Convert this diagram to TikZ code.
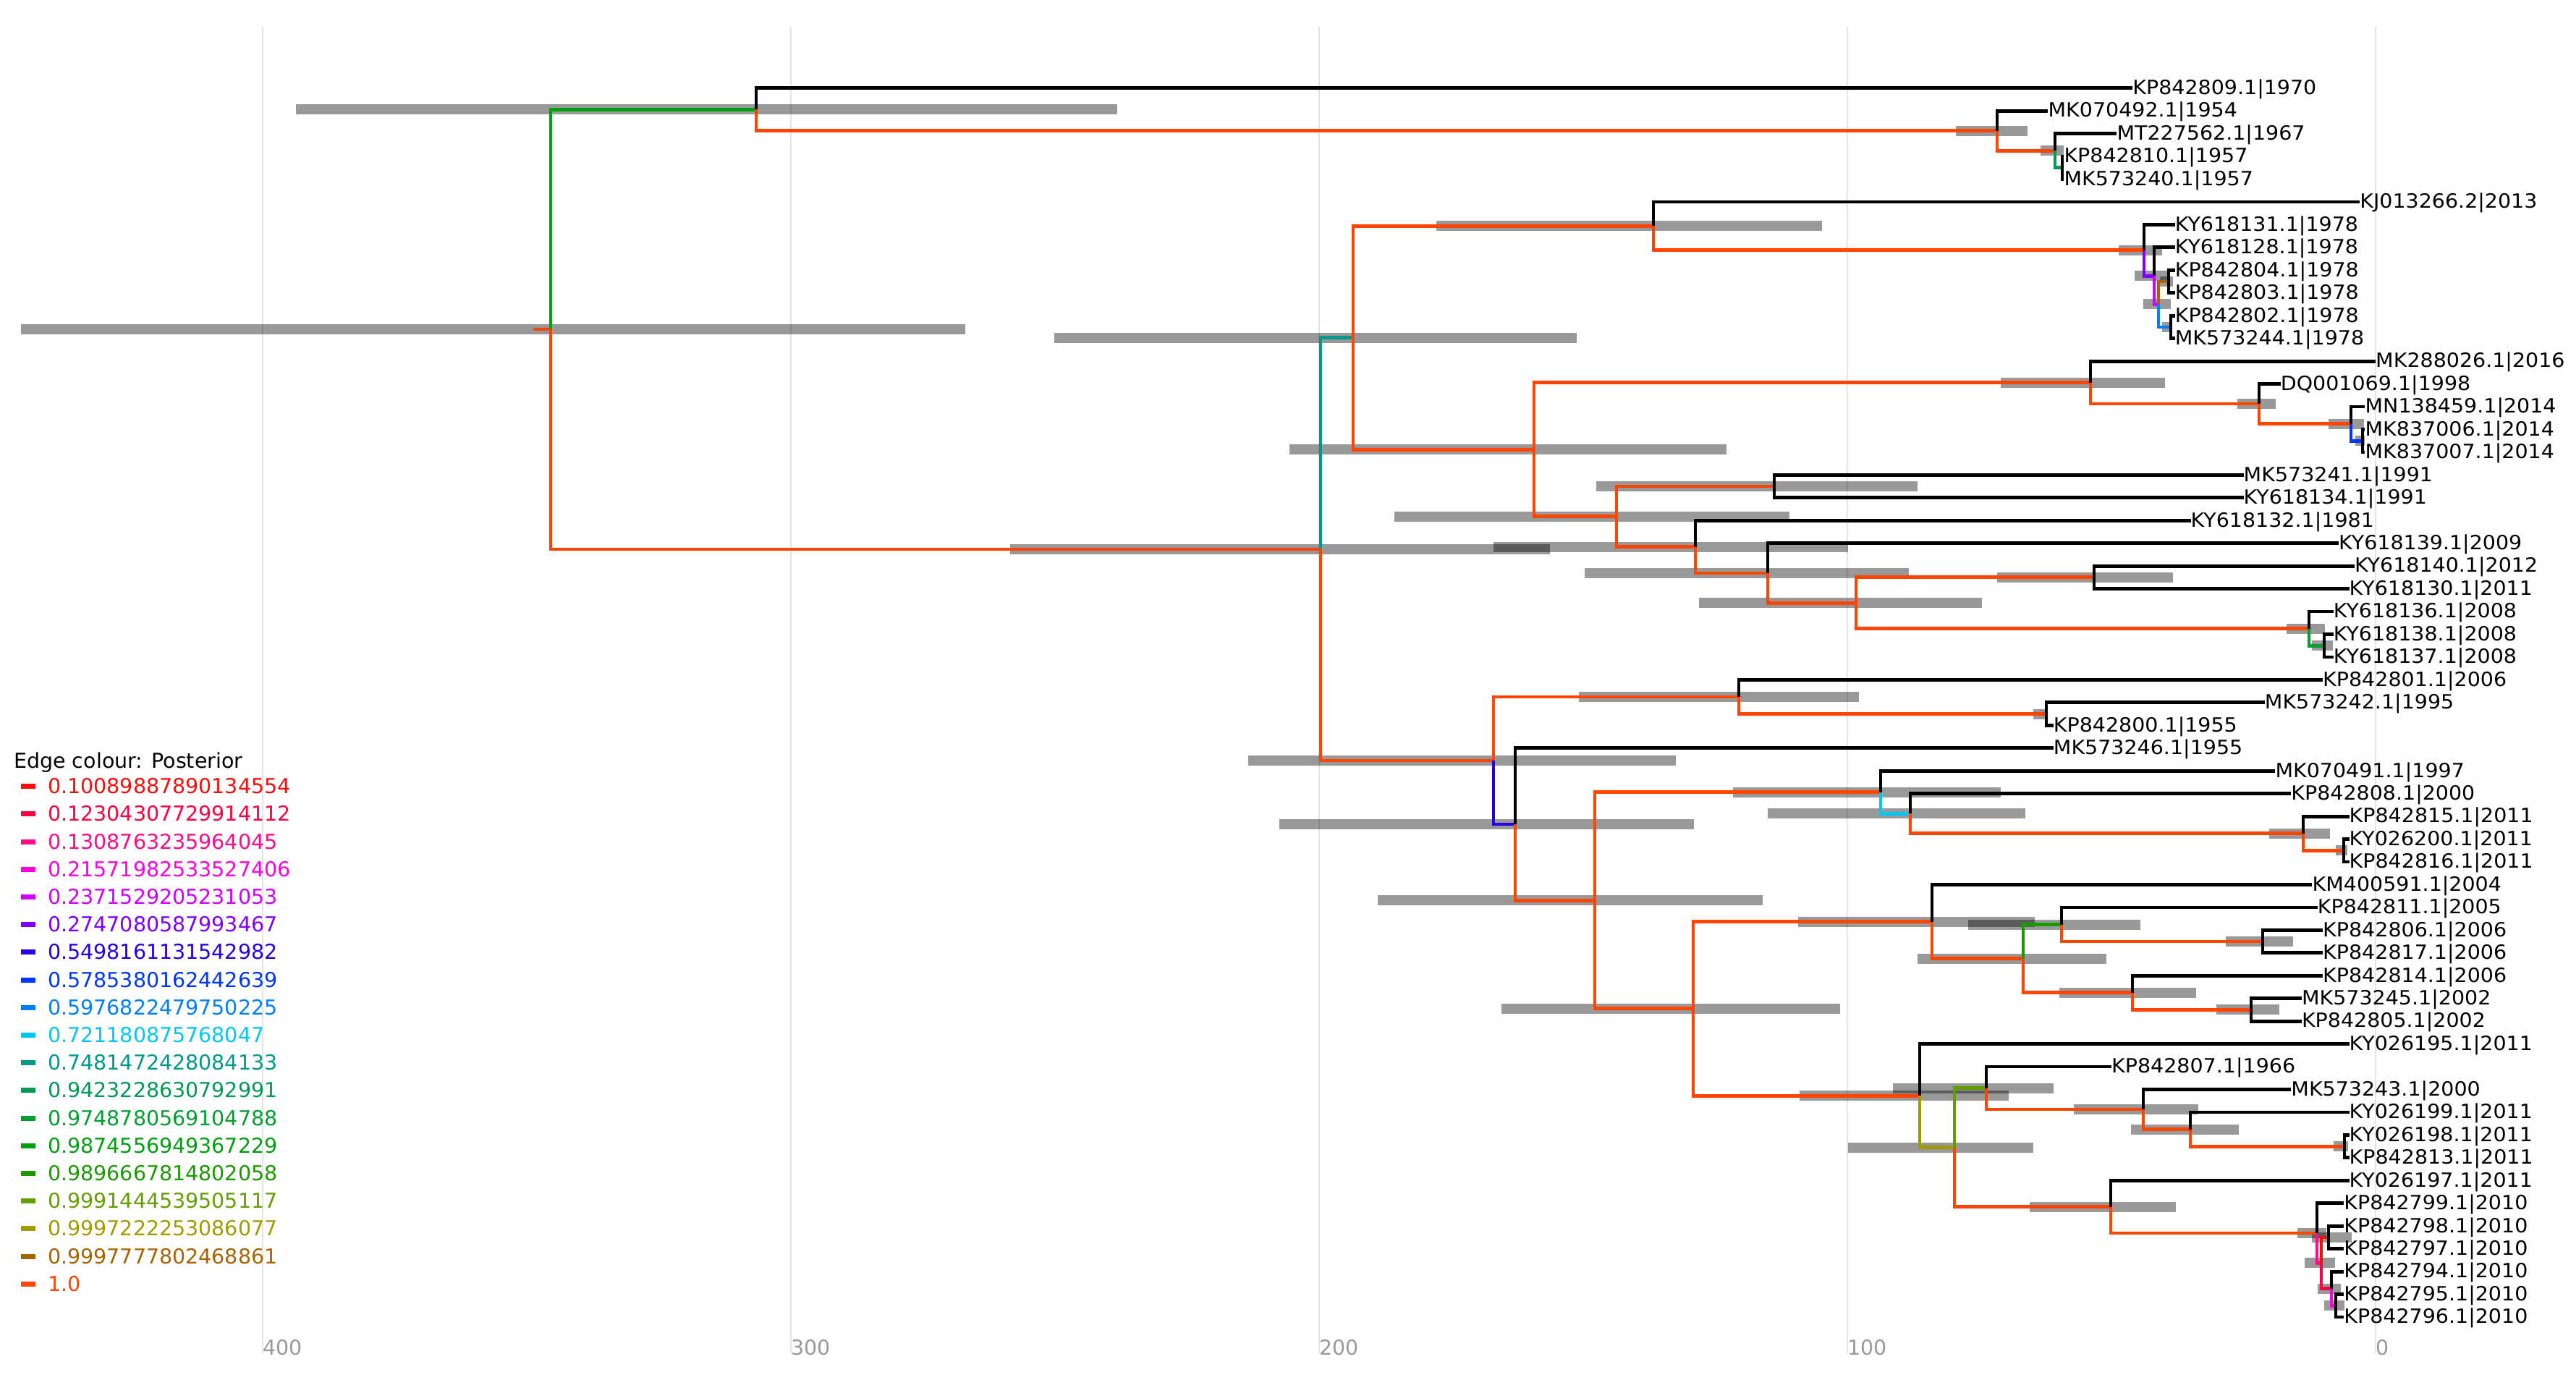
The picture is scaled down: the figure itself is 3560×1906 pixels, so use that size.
\documentclass[tikz,border=0pt]{standalone}
\usepackage{fontspec}
\setmainfont{DejaVu Sans}
\definecolor{p01}{HTML}{FF0A0A}
\definecolor{p02}{HTML}{FF0040}
\definecolor{p03}{HTML}{FF0A88}
\definecolor{p04}{HTML}{FF00E0}
\definecolor{p05}{HTML}{D000FF}
\definecolor{p06}{HTML}{8000FF}
\definecolor{p07}{HTML}{2400E6}
\definecolor{p08}{HTML}{0034FF}
\definecolor{p09}{HTML}{0080FF}
\definecolor{p10}{HTML}{00C8F0}
\definecolor{p11}{HTML}{00998A}
\definecolor{p12}{HTML}{009A55}
\definecolor{p13}{HTML}{00A030}
\definecolor{p14}{HTML}{00A010}
\definecolor{p15}{HTML}{1A9A00}
\definecolor{p16}{HTML}{62A000}
\definecolor{p17}{HTML}{A09C00}
\definecolor{p18}{HTML}{A86400}
\definecolor{p19}{HTML}{FF4500}
\definecolor{gridc}{HTML}{E4E4E4}
\definecolor{axc}{HTML}{9A9A9A}
\newcommand\Yc[1]{(121.7+((#1)-1)*31.45)}
\newcommand\Tx[1]{(3283-7.3*(2016-(#1)))}
\newcommand\hpdbar[3]{\fill[hpd] (#2,{\Yc{#1}-7}) rectangle (#3,{\Yc{#1}+7});}
\newcommand\E[3]{\draw[br,#3] (#1) |- (#2);}
\newcommand\txtfont{\fontsize{28.5}{34}\selectfont}
\begin{document}
\begin{tikzpicture}[x=1pt,y=-1pt,
  br/.style={line width=4.8pt},
  hpd/.style={fill=black,fill opacity=0.4},
  grid/.style={draw=gridc,line width=1.5pt},
  tiplab/.style={anchor=base west,inner sep=0pt,yshift=-8.8pt,font=\txtfont},
  leglab/.style={anchor=base west,inner sep=0pt,font=\txtfont},
  axlab/.style={anchor=base west,inner sep=0pt,font=\txtfont,text=axc}]
\useasboundingbox (0,0) rectangle (3560,1906);
\fill[white] (0,0) rectangle (3560,1906);
% grid and axis
\foreach \v/\xx in {400/363,300/1093,200/1823,100/2553,0/3283}{
  \draw[grid] (\xx,37) -- (\xx,1870);
  \node[axlab] (ax\v) at (\xx,1872) {\v};
}
% tips
\foreach \i/\nm/\yr in {1/KP842809.1/1970,2/MK070492.1/1954,3/MT227562.1/1967,4/KP842810.1/1957,5/MK573240.1/1957,
 6/KJ013266.2/2013,7/KY618131.1/1978,8/KY618128.1/1978,9/KP842804.1/1978,10/KP842803.1/1978,
 11/KP842802.1/1978,12/MK573244.1/1978,13/MK288026.1/2016,14/DQ001069.1/1998,15/MN138459.1/2014,
 16/MK837006.1/2014,17/MK837007.1/2014,18/MK573241.1/1991,19/KY618134.1/1991,20/KY618132.1/1981,
 21/KY618139.1/2009,22/KY618140.1/2012,23/KY618130.1/2011,24/KY618136.1/2008,25/KY618138.1/2008,
 26/KY618137.1/2008,27/KP842801.1/2006,28/MK573242.1/1995,29/KP842800.1/1955,30/MK573246.1/1955,
 31/MK070491.1/1997,32/KP842808.1/2000,33/KP842815.1/2011,34/KY026200.1/2011,35/KP842816.1/2011,
 36/KM400591.1/2004,37/KP842811.1/2005,38/KP842806.1/2006,39/KP842817.1/2006,40/KP842814.1/2006,
 41/MK573245.1/2002,42/KP842805.1/2002,43/KY026195.1/2011,44/KP842807.1/1966,45/MK573243.1/2000,
 46/KY026199.1/2011,47/KY026198.1/2011,48/KP842813.1/2011,49/KY026197.1/2011,50/KP842799.1/2010,
 51/KP842798.1/2010,52/KP842797.1/2010,53/KP842794.1/2010,54/KP842795.1/2010,55/KP842796.1/2010}{
  \coordinate (t\i) at ({\Tx{\yr}},{\Yc{\i}});
  \node[tiplab] (l\i) at (t\i) {\scalebox{1}[0.95]{\nm|\yr}};
}
% internal nodes
\coordinate (R0) at (737,{\Yc{11.599}});
\coordinate (root) at (761,{\Yc{11.599}});
\coordinate (A) at (1045,{\Yc{1.9375}});
\coordinate (A2) at (2760,{\Yc{2.875}});
\coordinate (A3) at (2840,{\Yc{3.75}});
\coordinate (A4) at (2850,{\Yc{4.5}});
\coordinate (B) at (1825,{\Yc{21.2605}});
\coordinate (B1) at (1870,{\Yc{11.9727}});
\coordinate (B1a) at (2285,{\Yc{7.0625}});
\coordinate (B1a2) at (2963,{\Yc{8.125}});
\coordinate (N) at (2977,{\Yc{9.25}});
\coordinate (M) at (2983,{\Yc{10.5}});
\coordinate (P) at (2997,{\Yc{9.5}});
\coordinate (Q) at (3000,{\Yc{11.5}});
\coordinate (B1b) at (2120,{\Yc{16.8828}});
\coordinate (B1b1) at (2889,{\Yc{13.9375}});
\coordinate (R) at (3122,{\Yc{14.875}});
\coordinate (S) at (3249,{\Yc{15.75}});
\coordinate (T) at (3265,{\Yc{16.5}});
\coordinate (B1b2) at (2234,{\Yc{19.8281}});
\coordinate (B1b2a) at (2452,{\Yc{18.5}});
\coordinate (B1b2b) at (2343,{\Yc{21.1563}});
\coordinate (B1b2c) at (2443,{\Yc{22.3125}});
\coordinate (B1b2d) at (2565,{\Yc{23.625}});
\coordinate (U) at (2894,{\Yc{22.5}});
\coordinate (V) at (3191,{\Yc{24.75}});
\coordinate (W) at (3212,{\Yc{25.5}});
\coordinate (B2) at (2064,{\Yc{30.5483}});
\coordinate (B2a) at (2403,{\Yc{27.75}});
\coordinate (X) at (2828,{\Yc{28.5}});
\coordinate (B2b) at (2094,{\Yc{33.3467}});
\coordinate (B2c) at (2204,{\Yc{36.6934}});
\coordinate (B2d) at (2599,{\Yc{31.9375}});
\coordinate (Y) at (2640,{\Yc{32.875}});
\coordinate (Z) at (3183,{\Yc{33.75}});
\coordinate (Z2) at (3239,{\Yc{34.5}});
\coordinate (B2e) at (2340,{\Yc{41.4492}});
\coordinate (B2f) at (2670,{\Yc{37.625}});
\coordinate (AB) at (2796,{\Yc{39.25}});
\coordinate (AA) at (2849,{\Yc{37.75}});
\coordinate (AD) at (3127,{\Yc{38.5}});
\coordinate (AC) at (2947,{\Yc{40.75}});
\coordinate (AE) at (3111,{\Yc{41.5}});
\coordinate (B2g) at (2653,{\Yc{45.2734}});
\coordinate (AG) at (2701,{\Yc{47.5469}});
\coordinate (AF) at (2745,{\Yc{44.9375}});
\coordinate (AI) at (2962,{\Yc{45.875}});
\coordinate (AJ) at (3027,{\Yc{46.75}});
\coordinate (AK) at (3240,{\Yc{47.5}});
\coordinate (AH) at (2917,{\Yc{50.1563}});
\coordinate (AL) at (3202,{\Yc{51.3125}});
\coordinate (AM) at (3208,{\Yc{52.625}});
\coordinate (AN) at (3218,{\Yc{51.5}});
\coordinate (AO) at (3222,{\Yc{53.75}});
\coordinate (AP) at (3228,{\Yc{54.5}});
% HPD bars
\hpdbar{11.599}{29}{1334}
\hpdbar{1.9375}{409}{1544}
\hpdbar{2.875}{2703}{2802}
\hpdbar{3.75}{2820}{2852}
\hpdbar{21.2605}{1396}{2142}
\hpdbar{11.9727}{1457}{2179}
\hpdbar{7.0625}{1985}{2518}
\hpdbar{8.125}{2928}{2988}
\hpdbar{9.25}{2950}{2998}
\hpdbar{10.5}{2962}{3000}
\hpdbar{9.5}{2985}{3003}
\hpdbar{11.5}{2988}{3002}
\hpdbar{16.8828}{1782}{2386}
\hpdbar{13.9375}{2765}{2992}
\hpdbar{14.875}{3092}{3145}
\hpdbar{15.75}{3218}{3267}
\hpdbar{16.5}{3255}{3268}
\hpdbar{19.8281}{1927}{2473}
\hpdbar{18.5}{2206}{2650}
\hpdbar{21.1563}{2064}{2554}
\hpdbar{22.3125}{2190}{2638}
\hpdbar{23.625}{2348}{2739}
\hpdbar{22.5}{2760}{3003}
\hpdbar{24.75}{3160}{3213}
\hpdbar{25.5}{3195}{3224}
\hpdbar{30.5483}{1725}{2316}
\hpdbar{27.75}{2182}{2569}
\hpdbar{28.5}{2810}{2830}
\hpdbar{33.3467}{1768}{2341}
\hpdbar{36.6934}{1904}{2436}
\hpdbar{31.9375}{2395}{2765}
\hpdbar{32.875}{2443}{2799}
\hpdbar{33.75}{3136}{3220}
\hpdbar{34.5}{3228}{3244}
\hpdbar{41.4492}{2075}{2543}
\hpdbar{37.625}{2485}{2812}
\hpdbar{39.25}{2650}{2911}
\hpdbar{37.75}{2720}{2958}
\hpdbar{38.5}{3076}{3169}
\hpdbar{40.75}{2846}{3035}
\hpdbar{41.5}{3063}{3150}
\hpdbar{45.2734}{2487}{2776}
\hpdbar{47.5469}{2554}{2810}
\hpdbar{44.9375}{2616}{2838}
\hpdbar{45.875}{2866}{3038}
\hpdbar{46.75}{2945}{3094}
\hpdbar{47.5}{3225}{3245}
\hpdbar{50.1563}{2805}{3007}
\hpdbar{51.3125}{3175}{3215}
\hpdbar{51.5}{3195}{3250}
\hpdbar{52.625}{3185}{3227}
\hpdbar{53.75}{3203}{3235}
\hpdbar{54.5}{3212}{3240}
% edges
\draw[br,p19] (R0) -- (root);
\E{root}{A}{p14} \E{root}{B}{p19}
\E{A}{t1}{black} \E{A}{A2}{p19}
\E{A2}{t2}{black} \E{A2}{A3}{p19}
\E{A3}{t3}{black} \E{A3}{A4}{p12}
\E{A4}{t4}{black} \E{A4}{t5}{black}
\E{B}{B1}{p11} \E{B}{B2}{p19}
\E{B1}{B1a}{p19} \E{B1}{B1b}{p19}
\E{B1a}{t6}{black} \E{B1a}{B1a2}{p19}
\E{B1a2}{t7}{black} \E{B1a2}{N}{p06}
\E{N}{t8}{black} \E{N}{M}{p05}
\E{M}{P}{p18} \E{M}{Q}{p09}
\E{P}{t9}{black} \E{P}{t10}{black}
\E{Q}{t11}{black} \E{Q}{t12}{black}
\E{B1b}{B1b1}{p19} \E{B1b}{B1b2}{p19}
\E{B1b1}{t13}{black} \E{B1b1}{R}{p19}
\E{R}{t14}{black} \E{R}{S}{p19}
\E{S}{t15}{black} \E{S}{T}{p08}
\E{T}{t16}{black} \E{T}{t17}{black}
\E{B1b2}{B1b2a}{p19} \E{B1b2}{B1b2b}{p19}
\E{B1b2a}{t18}{black} \E{B1b2a}{t19}{black}
\E{B1b2b}{t20}{black} \E{B1b2b}{B1b2c}{p19}
\E{B1b2c}{t21}{black} \E{B1b2c}{B1b2d}{p19}
\E{B1b2d}{U}{p19} \E{B1b2d}{V}{p19}
\E{U}{t22}{black} \E{U}{t23}{black}
\E{V}{t24}{black} \E{V}{W}{p13}
\E{W}{t25}{black} \E{W}{t26}{black}
\E{B2}{B2a}{p19} \E{B2}{B2b}{p07}
\E{B2a}{t27}{black} \E{B2a}{X}{p19}
\E{X}{t28}{black} \E{X}{t29}{black}
\E{B2b}{t30}{black} \E{B2b}{B2c}{p19}
\E{B2c}{B2d}{p19} \E{B2c}{B2e}{p19}
\E{B2d}{t31}{black} \E{B2d}{Y}{p10}
\E{Y}{t32}{black} \E{Y}{Z}{p19}
\E{Z}{t33}{black} \E{Z}{Z2}{p19}
\E{Z2}{t34}{black} \E{Z2}{t35}{black}
\E{B2e}{B2f}{p19} \E{B2e}{B2g}{p19}
\E{B2f}{t36}{black} \E{B2f}{AB}{p19}
\E{AB}{AA}{p15} \E{AB}{AC}{p19}
\E{AA}{t37}{black} \E{AA}{AD}{p19}
\E{AD}{t38}{black} \E{AD}{t39}{black}
\E{AC}{t40}{black} \E{AC}{AE}{p19}
\E{AE}{t41}{black} \E{AE}{t42}{black}
\E{B2g}{t43}{black} \E{B2g}{AG}{p17}
\E{AG}{AF}{p16} \E{AG}{AH}{p19}
\E{AF}{t44}{black} \E{AF}{AI}{p19}
\E{AI}{t45}{black} \E{AI}{AJ}{p19}
\E{AJ}{t46}{black} \E{AJ}{AK}{p19}
\E{AK}{t47}{black} \E{AK}{t48}{black}
\E{AH}{t49}{black} \E{AH}{AL}{p19}
\E{AL}{t50}{black} \E{AL}{AM}{p03}
\E{AM}{AN}{p01} \E{AM}{AO}{p02}
\E{AN}{t51}{black} \E{AN}{t52}{black}
\E{AO}{t53}{black} \E{AO}{AP}{p04}
\E{AP}{t54}{black} \E{AP}{t55}{black}
% legend
\node[leglab] (legtitle) at (19,1061) {Edge colour: Posterior};
\foreach \c/\v [count=\k] in {p01/0.10089887890134554,p02/0.12304307729914112,p03/0.1308763235964045,
  p04/0.21571982533527406,p05/0.2371529205231053,p06/0.2747080587993467,p07/0.5498161131542982,
  p08/0.5785380162442639,p09/0.5976822479750225,p10/0.721180875768047,p11/0.7481472428084133,
  p12/0.9423228630792991,p13/0.9748780569104788,p14/0.9874556949367229,p15/0.9896667814802058,
  p16/0.9991444539505117,p17/0.9997222253086077,p18/0.9997777802468861,p19/1.0}{
  \coordinate (lga\k) at (29,{1086.7+(\k-1)*38.2});
  \coordinate (lgb\k) at (49,{1086.7+(\k-1)*38.2});
  \draw[\c,line width=7pt] (lga\k) -- (lgb\k);
  \node[leglab,text=\c] (leg\k) at (66,{1086.7+(\k-1)*38.2+10}) {\v};
}
\end{tikzpicture}
\end{document}
